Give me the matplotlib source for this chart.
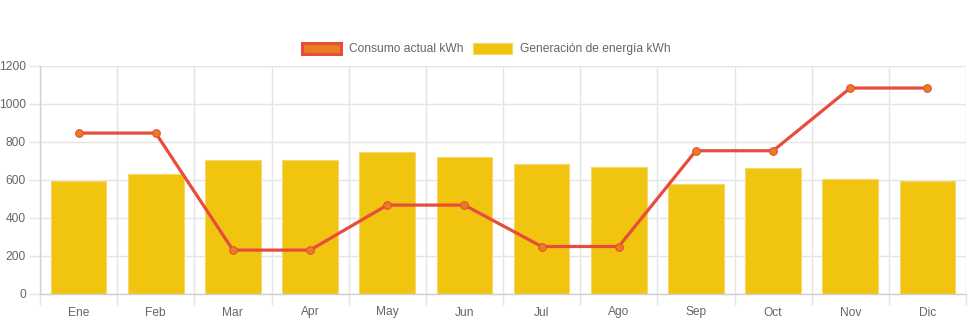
import matplotlib
matplotlib.use("Agg")
import matplotlib.pyplot as plt
from matplotlib.patches import Patch
import numpy as np

months = ["Ene", "Feb", "Mar", "Apr", "May", "Jun", "Jul", "Ago", "Sep", "Oct", "Nov", "Dic"]
generacion = [595, 629, 703, 703, 745, 721, 684, 666, 577, 661, 603, 596]
consumo = [847, 847, 231, 231, 468, 468, 250, 250, 754, 754, 1084, 1084]
yticks = [0, 200, 400, 600, 800, 1000, 1200]

plt.rcParams['font.family'] = ['Liberation Sans', 'DejaVu Sans']
W, H, DPI = 971, 323, 100
fig = plt.figure(figsize=(W / DPI, H / DPI), dpi=DPI)
ax = fig.add_axes([40 / W, 1 - 294 / H, 926 / W, 228 / H])

x = np.arange(len(months))
grid_c = "#e5e5e5"
text_c = "#666666"
fs = 12 * 72 / DPI

ax.bar(x, generacion, width=0.72, color="#f1c40f", edgecolor="#f5d76e", linewidth=0.8, zorder=2)
ax.plot(x, consumo, color="#e74c3c", linewidth=2.3, marker="o", markersize=5.5,
        markerfacecolor="#e67e22", markeredgecolor="#e74c3c", markeredgewidth=0.8, zorder=3)

ax.set_xlim(-0.5, len(months) - 0.5)
ax.set_ylim(0, 1200)
ax.set_yticks(yticks)
ax.set_yticklabels([str(v) for v in yticks])
ax.set_xticks(x)
ax.set_xticklabels(months)
ax.set_xticks(np.arange(-0.5, len(months)), minor=True)

ax.tick_params(axis="x", which="major", length=0, pad=9, labelsize=fs, labelcolor=text_c)
ax.tick_params(axis="x", which="minor", length=8, width=1, color=grid_c)
ax.tick_params(axis="y", which="major", length=8, width=1, color=grid_c, pad=2,
               labelsize=fs, labelcolor=text_c)
ax.grid(True, axis="y", color=grid_c, linewidth=1, zorder=0)
ax.grid(True, axis="x", which="minor", color=grid_c, linewidth=1, zorder=0)
ax.set_axisbelow(True)
for s in ["top", "right"]:
    ax.spines[s].set_visible(False)
for s in ["left", "bottom"]:
    ax.spines[s].set_color("#d0d0d0")
    ax.spines[s].set_linewidth(1)

handles = [
    Patch(facecolor="#e67e22", edgecolor="#e74c3c", linewidth=2.2, label="Consumo actual kWh"),
    Patch(facecolor="#f1c40f", edgecolor="#f5d76e", linewidth=0.8, label="Generación de energía kWh"),
]
leg = fig.legend(handles=handles, loc="center", bbox_to_anchor=(486 / W, 1 - 49 / H), ncol=2,
                 frameon=False, fontsize=fs, handlelength=3.3, handleheight=1.0,
                 handletextpad=0.6, columnspacing=0.8, borderaxespad=0, borderpad=0)
for t in leg.get_texts():
    t.set_color(text_c)

fig.savefig("out.png", dpi=DPI)
